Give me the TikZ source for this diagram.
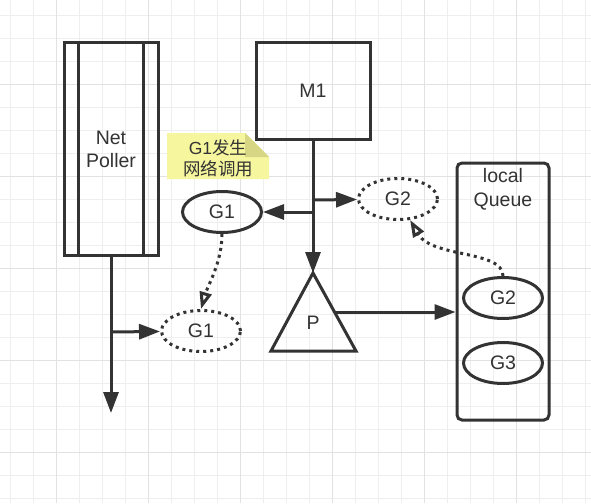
\documentclass[tikz,border=0pt]{standalone}
\usepackage{fontspec}
\setmainfont{Liberation Sans}
\newfontfamily\cjk{Noto Sans CJK SC}
\usetikzlibrary{arrows.meta,shapes.geometric}
\definecolor{ink}{HTML}{333333}
\definecolor{gridminor}{HTML}{EEEEEE}
\definecolor{gridmajor}{HTML}{E2E2E2}
\definecolor{notefill}{HTML}{F6F69E}
\definecolor{notefold}{HTML}{D6D684}
\begin{document}
\begin{tikzpicture}[x=1pt,y=-1pt,color=ink,line width=3pt,
    font=\fontsize{19.5}{23}\selectfont,
    box/.style={draw,inner sep=0pt},
    gnode/.style={ellipse,draw,minimum width=79pt,minimum height=41pt,inner sep=0pt},
    gdot/.style={gnode,dash pattern=on 3pt off 4pt},
    link/.style={-{Triangle[length=21pt,width=15pt]}},
    move/.style={dash pattern=on 3pt off 4pt,-{Triangle[open,length=17pt,width=12pt]}}]
  \useasboundingbox (0,0) rectangle (591,503);
  \fill[white] (0,0) rectangle (591,503);
  \foreach \i in {0,...,25}
    \draw[gridminor,line width=1pt] ({10.7+23*\i},0) -- ({10.7+23*\i},503);
  \foreach \j in {0,...,21}
    \draw[gridminor,line width=1pt] (0,{15.3+23*\j}) -- (591,{15.3+23*\j});
  \foreach \i in {0,...,5}
    \draw[gridmajor,line width=1pt] ({56.7+92*\i},0) -- ({56.7+92*\i},503);
  \foreach \j in {0,...,4}
    \draw[gridmajor,line width=1pt] (0,{84.3+92*\j}) -- (591,{84.3+92*\j});

  \node[box,minimum width=94pt,minimum height=212pt,align=center] (poller) at (111,149) {Net\\Poller};
  \draw ([xshift=16pt]poller.north west) -- ([xshift=16pt]poller.south west);
  \draw ([xshift=-16pt]poller.north east) -- ([xshift=-16pt]poller.south east);
  \node[box,minimum width=114pt,minimum height=96pt] (m1) at (313,91) {M1};

  \fill[notefill] (167,133) -- (245,133) -- (269,157) -- (269,179) -- (167,179) -- cycle;
  \fill[notefold] (245,133) -- (269,157) -- (245,157) -- cycle;
  \node[align=center,font=\fontsize{17.5}{21}\selectfont] (note) at (218,158) {G1{\cjk 发生}\\{\cjk 网络调用}};

  \node[gnode] (g1) at (222,212) {G1};
  \node[gdot] (g2m) at (398,199) {G2};
  \node[gdot] (g1p) at (201,331) {G1};

  \coordinate (ptop) at (313,273);
  \coordinate (pright) at (335,312);
  \draw[line join=miter] (ptop) -- (356,351) -- (271,351) -- cycle;
  \node (p) at (313,323) {P};

  \node[box,rounded corners=5pt,minimum width=92pt,minimum height=257pt] (queue) at (503,291.5) {};
  \node[align=center,font=\fontsize{19.5}{24}\selectfont] (qtext) at (503,189) {local\\Queue};
  \node[gnode] (qg2) at (503,298) {G2};
  \node[gnode] (qg3) at (503,363) {G3};

  \coordinate (m1g1) at (313,212);
  \coordinate (m1g2) at (313,200);
  \coordinate (pollerg1) at (111,332);
  \coordinate (pollerend) at (111,413);

  \draw[link] (m1.south) -- (ptop);
  \draw[link] (m1g1) -- (g1);
  \draw[link] (m1g2) -- (g2m);
  \draw[link] (pright) -- (queue.west |- pright);
  \draw[link] (poller.south) -- (pollerend);
  \draw[link] (pollerg1) -- (g1p);
  \draw[move] (g1.south) .. controls (222,262) and (208,285) .. (g1p.north);
  \draw[move] (qg2.north) .. controls (503,250) and (432,258) .. (g2m.-60);
\end{tikzpicture}
\end{document}
